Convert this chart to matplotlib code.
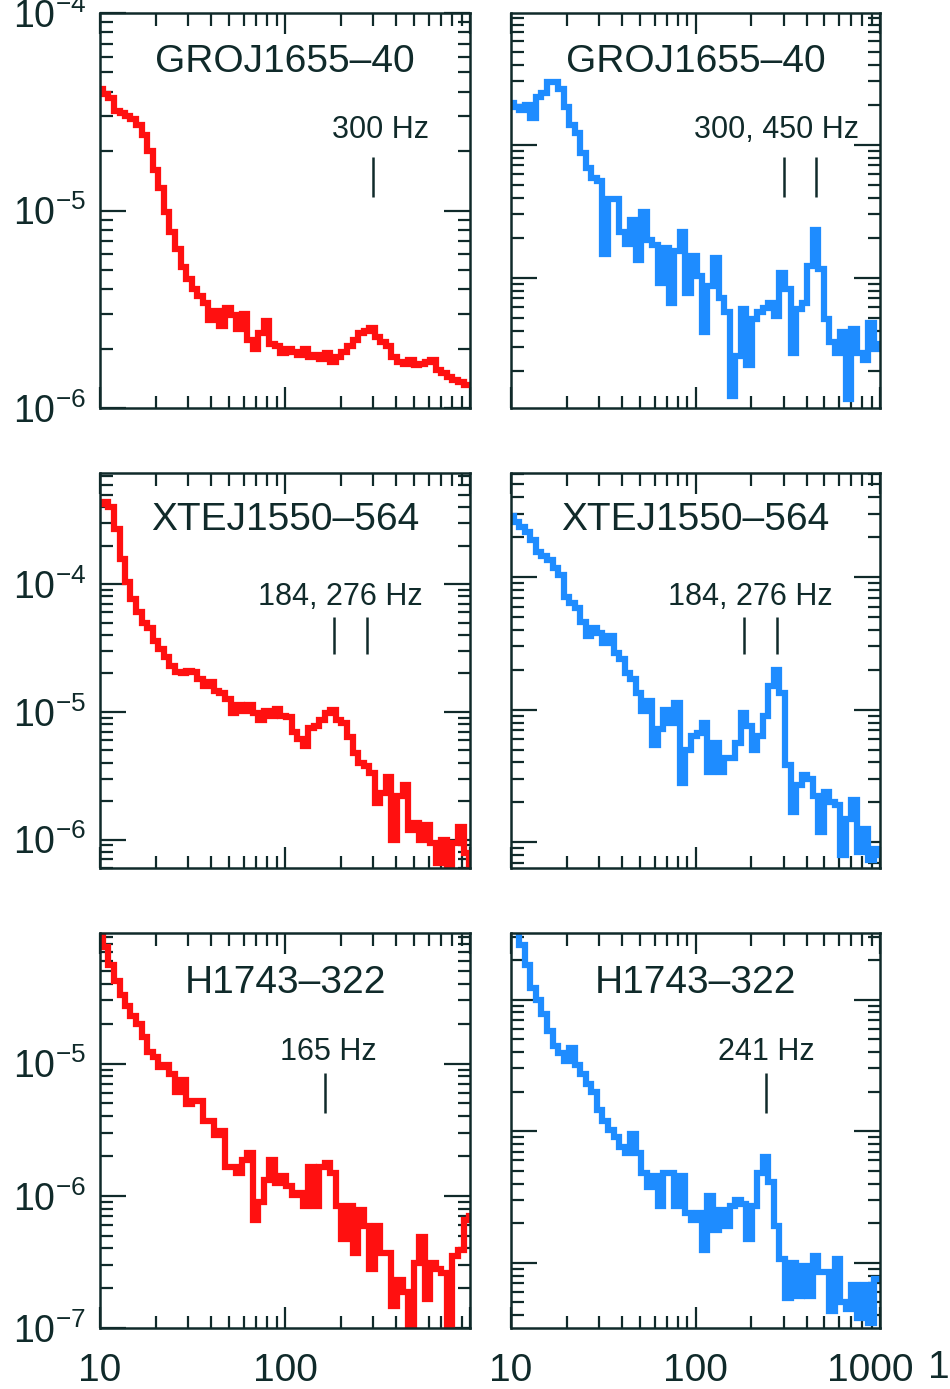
import numpy as np
from matplotlib import pyplot as plt
from matplotlib.ticker import LogLocator, NullFormatter, FuncFormatter
from matplotlib.transforms import ScaledTranslation

plt.rcParams['font.family'] = ['Liberation Sans', 'DejaVu Sans']
plt.rcParams['mathtext.fontset'] = 'custom'
plt.rcParams['mathtext.rm'] = 'Liberation Sans'
plt.rcParams['mathtext.it'] = 'Liberation Sans:italic'

INK = '#102a2a'
ROJO = '#ff1010'
AZUL = '#1e8cff'

# frecuencias de los bines (Hz), comunes a los seis paneles
freq = [10.0, 10.7, 11.5, 12.3, 13.2, 14.1, 15.1, 16.2, 17.4, 18.6,
        20.0, 21.4, 22.9, 24.5, 26.3, 28.2, 30.2, 32.4, 34.7, 37.2,
        39.8, 42.7, 45.7, 49.0, 52.5, 56.2, 60.3, 64.6, 69.2, 74.1,
        79.4, 85.1, 91.2, 97.7, 105, 112, 120, 129, 138, 148,
        158, 170, 182, 195, 209, 224, 240, 257, 275, 295,
        316, 339, 363, 389, 417, 447, 479, 513, 550, 589,
        631, 676, 724, 776, 832, 891, 955, 1023]

gro_rojo = [4.1e-5, 3.9e-5, 3.7e-5, 3.2e-5, 3.1e-5, 3.0e-5, 2.9e-5, 2.7e-5, 2.4e-5, 2.0e-5,
            1.6e-5, 1.3e-5, 9.8e-6, 7.8e-6, 6.4e-6, 5.2e-6, 4.5e-6, 4.0e-6, 3.7e-6, 3.4e-6,
            2.8e-6, 3.1e-6, 2.6e-6, 3.2e-6, 2.95e-6, 2.5e-6, 3.0e-6, 2.2e-6, 2.0e-6, 2.4e-6,
            2.75e-6, 2.1e-6, 2.05e-6, 1.9e-6, 2.0e-6, 1.93e-6, 1.86e-6, 1.98e-6, 1.82e-6, 1.86e-6,
            1.78e-6, 1.9e-6, 1.71e-6, 1.82e-6, 1.93e-6, 2.05e-6, 2.22e-6, 2.4e-6, 2.45e-6, 2.53e-6,
            2.3e-6, 2.17e-6, 2.05e-6, 1.82e-6, 1.71e-6, 1.68e-6, 1.75e-6, 1.65e-6, 1.68e-6, 1.71e-6,
            1.75e-6, 1.55e-6, 1.5e-6, 1.44e-6, 1.39e-6, 1.36e-6, 1.31e-6, 1.3e-6]

gro_azul = [2.05e-4, 1.94e-4, 1.83e-4, 2.0e-4, 1.6e-4, 2.3e-4, 2.45e-4, 2.97e-4, 2.97e-4, 2.65e-4,
            1.94e-4, 1.41e-4, 1.22e-4, 8.7e-5, 6.7e-5, 5.6e-5, 5.3e-5, 1.5e-5, 3.9e-5, 3.9e-5,
            2.2e-5, 1.8e-5, 2.7e-5, 1.37e-5, 3.1e-5, 1.94e-5, 1.78e-5, 9.2e-6, 1.67e-5, 6.5e-6,
            1.6e-5, 2.2e-5, 7.7e-6, 1.45e-5, 1.03e-5, 3.9e-6, 8.7e-6, 1.41e-5, 7.1e-6, 5.5e-6,
            1.3e-6, 2.6e-6, 5.8e-6, 2.2e-6, 4.9e-6, 5.5e-6, 5.9e-6, 6.5e-6, 5.2e-6, 1.09e-5,
            8.2e-6, 2.7e-6, 5.8e-6, 6.5e-6, 1.22e-5, 2.3e-5, 1.16e-5, 4.9e-6, 3.3e-6, 2.7e-6,
            3.9e-6, 1.22e-6, 4.1e-6, 2.7e-6, 2.4e-6, 4.6e-6, 2.9e-6, 3.2e-6]

xte_rojo = [4.2e-4, 4.4e-4, 4.0e-4, 2.7e-4, 1.58e-4, 1.04e-4, 7.6e-5, 6.0e-5, 5.0e-5, 4.5e-5,
            3.6e-5, 3.1e-5, 2.7e-5, 2.3e-5, 2.04e-5, 2.0e-5, 2.1e-5, 2.04e-5, 1.8e-5, 1.6e-5,
            1.7e-5, 1.45e-5, 1.4e-5, 1.26e-5, 9.8e-6, 1.14e-5, 1.02e-5, 1.14e-5, 9.8e-6, 8.7e-6,
            1.02e-5, 9.3e-6, 1.05e-5, 9.3e-6, 9.1e-6, 6.9e-6, 6.1e-6, 5.4e-6, 7.5e-6, 7.8e-6,
            8.7e-6, 9.8e-6, 1.04e-5, 8.7e-6, 8.2e-6, 6.4e-6, 4.8e-6, 4.0e-6, 3.8e-6, 3.3e-6,
            1.95e-6, 2.3e-6, 3.1e-6, 1.0e-6, 2.2e-6, 2.7e-6, 1.2e-6, 1.35e-6, 1.0e-6, 1.3e-6,
            9.4e-7, 6.6e-7, 1.0e-6, 5.2e-7, 9.4e-7, 1.26e-6, 7.9e-7, 6.0e-7]

xte_azul = [2.9e-4, 2.6e-4, 2.4e-4, 2.2e-4, 1.9e-4, 1.56e-4, 1.44e-4, 1.35e-4, 1.17e-4, 1.04e-4,
            7.1e-5, 6.4e-5, 5.9e-5, 4.6e-5, 3.6e-5, 4.1e-5, 3.8e-5, 3.2e-5, 3.6e-5, 2.7e-5,
            2.4e-5, 1.9e-5, 1.7e-5, 1.34e-5, 9.8e-6, 1.17e-5, 5.4e-6, 7.1e-6, 1.0e-5, 7.9e-6,
            1.12e-5, 2.8e-6, 5.0e-6, 6.3e-6, 6.7e-6, 7.9e-6, 3.4e-6, 5.6e-6, 3.4e-6, 4.3e-6,
            4.3e-6, 5.6e-6, 9.5e-6, 7.6e-6, 5.0e-6, 6.3e-6, 8.9e-6, 1.5e-5, 2.0e-5, 1.34e-5,
            3.8e-6, 1.7e-6, 2.7e-6, 3.2e-6, 3.0e-6, 2.24e-6, 1.2e-6, 2.4e-6, 2.0e-6, 1.9e-6,
            8.0e-7, 1.5e-6, 2.1e-6, 8.4e-7, 1.25e-6, 7.4e-7, 8.9e-7, 8.0e-7]

h17_rojo = [9.5e-5, 7.6e-5, 5.6e-5, 4.2e-5, 3.3e-5, 2.7e-5, 2.3e-5, 2.0e-5, 1.6e-5, 1.22e-5,
            1.12e-5, 9.4e-6, 9.7e-6, 8.4e-6, 6.1e-6, 7.5e-6, 4.9e-6, 5.2e-6, 5.2e-6, 3.7e-6,
            3.7e-6, 2.9e-6, 3.1e-6, 1.66e-6, 1.66e-6, 1.48e-6, 1.87e-6, 2.1e-6, 6.6e-7, 8.9e-7,
            1.32e-6, 1.87e-6, 1.25e-6, 1.4e-6, 1.19e-6, 1.02e-6, 1.05e-6, 8.4e-7, 1.66e-6, 8.4e-7,
            1.66e-6, 1.77e-6, 1.48e-6, 8.4e-7, 4.7e-7, 8.4e-7, 3.7e-7, 7.8e-7, 5.9e-7, 2.8e-7,
            5.9e-7, 3.7e-7, 3.7e-7, 1.47e-7, 2.3e-7, 1.86e-7, 8.0e-8, 3.1e-7, 4.9e-7, 1.66e-7,
            3.1e-7, 2.8e-7, 2.6e-7, 8.0e-8, 3.5e-7, 3.9e-7, 6.6e-7, 7.0e-7]

h17_azul = [4.0e-4, 3.3e-4, 2.6e-4, 1.83e-4, 1.23e-4, 1.0e-4, 7.7e-5, 5.8e-5, 4.45e-5, 3.9e-5,
            3.4e-5, 4.3e-5, 3.2e-5, 2.7e-5, 2.3e-5, 2.0e-5, 1.44e-5, 1.2e-5, 1.02e-5, 9.1e-6,
            7.6e-6, 6.8e-6, 9.6e-6, 6.8e-6, 4.8e-6, 3.8e-6, 4.6e-6, 2.7e-6, 4.8e-6, 4.8e-6,
            2.7e-6, 4.6e-6, 2.4e-6, 2.1e-6, 2.4e-6, 1.26e-6, 3.2e-6, 1.78e-6, 2.5e-6, 1.9e-6,
            2.7e-6, 3.0e-6, 2.8e-6, 1.51e-6, 2.7e-6, 4.8e-6, 6.4e-6, 4.1e-6, 1.9e-6, 1.07e-6,
            5.4e-7, 1.0e-6, 5.6e-7, 9.5e-7, 5.6e-7, 1.12e-6, 8.5e-7, 8.5e-7, 4.3e-7, 1.07e-6,
            5.0e-7, 4.5e-7, 6.8e-7, 3.8e-7, 6.8e-7, 3.5e-7, 7.6e-7, 7.6e-7]

fuentes = ['GROJ1655\u201340', 'GROJ1655\u201340',
           'XTEJ1550\u2013564', 'XTEJ1550\u2013564',
           'H1743\u2013322', 'H1743\u2013322']
series = [gro_rojo, gro_azul, xte_rojo, xte_azul, h17_rojo, h17_azul]
colores = [ROJO, AZUL, ROJO, AZUL, ROJO, AZUL]
qpo_marcas = [[300], [300, 450], [184, 276], [184, 276], [165], [241]]
qpo_textos = ['300 Hz', '300, 450 Hz', '184, 276 Hz', '184, 276 Hz', '165 Hz', '241 Hz']
limites_y = [(1e-6, 1e-4), (1.05e-6, 9.8e-4),
             (6.0e-7, 7.4e-4), (6.4e-7, 6.1e-4),
             (1e-7, 9.7e-5), (3.2e-7, 3.2e-4)]

# posiciones de la figura (en pixeles de 950x1389)
fig = plt.figure(figsize=(9.5, 13.89), dpi=100)
col_x = [100 / 950, 511 / 950]
col_w = [370 / 950, 369 / 950]
fila_b = [1 - 408 / 1389, 1 - 868 / 1389, 1 - 1328 / 1389]
alto = 395 / 1389
texto_x = [0.759, 0.72, 0.649, 0.648, 0.617, 0.691]
texto_y = [0.704, 0.686, 0.699]
marca_y = [(0.534, 0.635), (0.541, 0.635), (0.544, 0.646)]
titulo_y = [0.876, 0.881, 0.873]


def etiqueta_y(v, pos):
    e = int(round(np.log10(v)))
    return r'$10^{%d}$' % e


for i in range(6):
    fila, col = i // 2, i % 2
    ax = fig.add_axes([col_x[col], fila_b[fila], col_w[col], alto])
    ax.plot(freq, series[i], color=colores[i], lw=4.5, drawstyle='steps-mid',
            solid_joinstyle='miter')
    ax.set_xscale('log')
    ax.set_yscale('log')
    ax.set_xlim(10, 1000)
    ax.set_ylim(*limites_y[i])

    for s in ax.spines.values():
        s.set_color(INK)
        s.set_linewidth(1.8)
    ax.tick_params(which='both', direction='in', top=True, right=True,
                   colors=INK, width=1.6)
    ax.tick_params(axis='y', which='major', length=19, labelsize=27, pad=10)
    ax.tick_params(axis='x', which='major', length=15, labelsize=28, pad=18)
    ax.tick_params(axis='both', which='minor', length=9)
    ax.yaxis.set_major_locator(LogLocator(base=10, numticks=10))
    ax.yaxis.set_minor_locator(LogLocator(base=10, subs=np.arange(2, 10), numticks=10))
    ax.yaxis.set_minor_formatter(NullFormatter())
    ax.xaxis.set_minor_formatter(NullFormatter())
    ax.set_xticks([10, 100, 1000])

    if col == 0:
        ax.yaxis.set_major_formatter(FuncFormatter(etiqueta_y))
    else:
        ax.set_yticklabels([])
    if fila == 2:
        if col == 0:
            ax.set_xticklabels(['10', '100', ''])
        else:
            ax.set_xticklabels(['10', '100', '1000'])
            ult = ax.get_xticklabels()[-1]
            ult.set_transform(ult.get_transform() +
                              ScaledTranslation(-0.1, 0, fig.dpi_scale_trans))
    else:
        ax.set_xticklabels([])

    ax.text(0.5, titulo_y[fila], fuentes[i], transform=ax.transAxes,
            ha='center', va='center', fontsize=28, color=INK)
    ax.text(texto_x[i], texto_y[fila], qpo_textos[i], transform=ax.transAxes,
            ha='center', va='center', fontsize=22, color=INK)
    ax.vlines(qpo_marcas[i], marca_y[fila][0], marca_y[fila][1],
              transform=ax.get_xaxis_transform(), color=INK, lw=1.8)

# resto de una etiqueta en el borde derecho
fig.text(1.0, 1 - 1368 / 1389, '1', fontsize=28, color=INK,
         ha='right', va='center')

fig.savefig('out.png', dpi=100)
